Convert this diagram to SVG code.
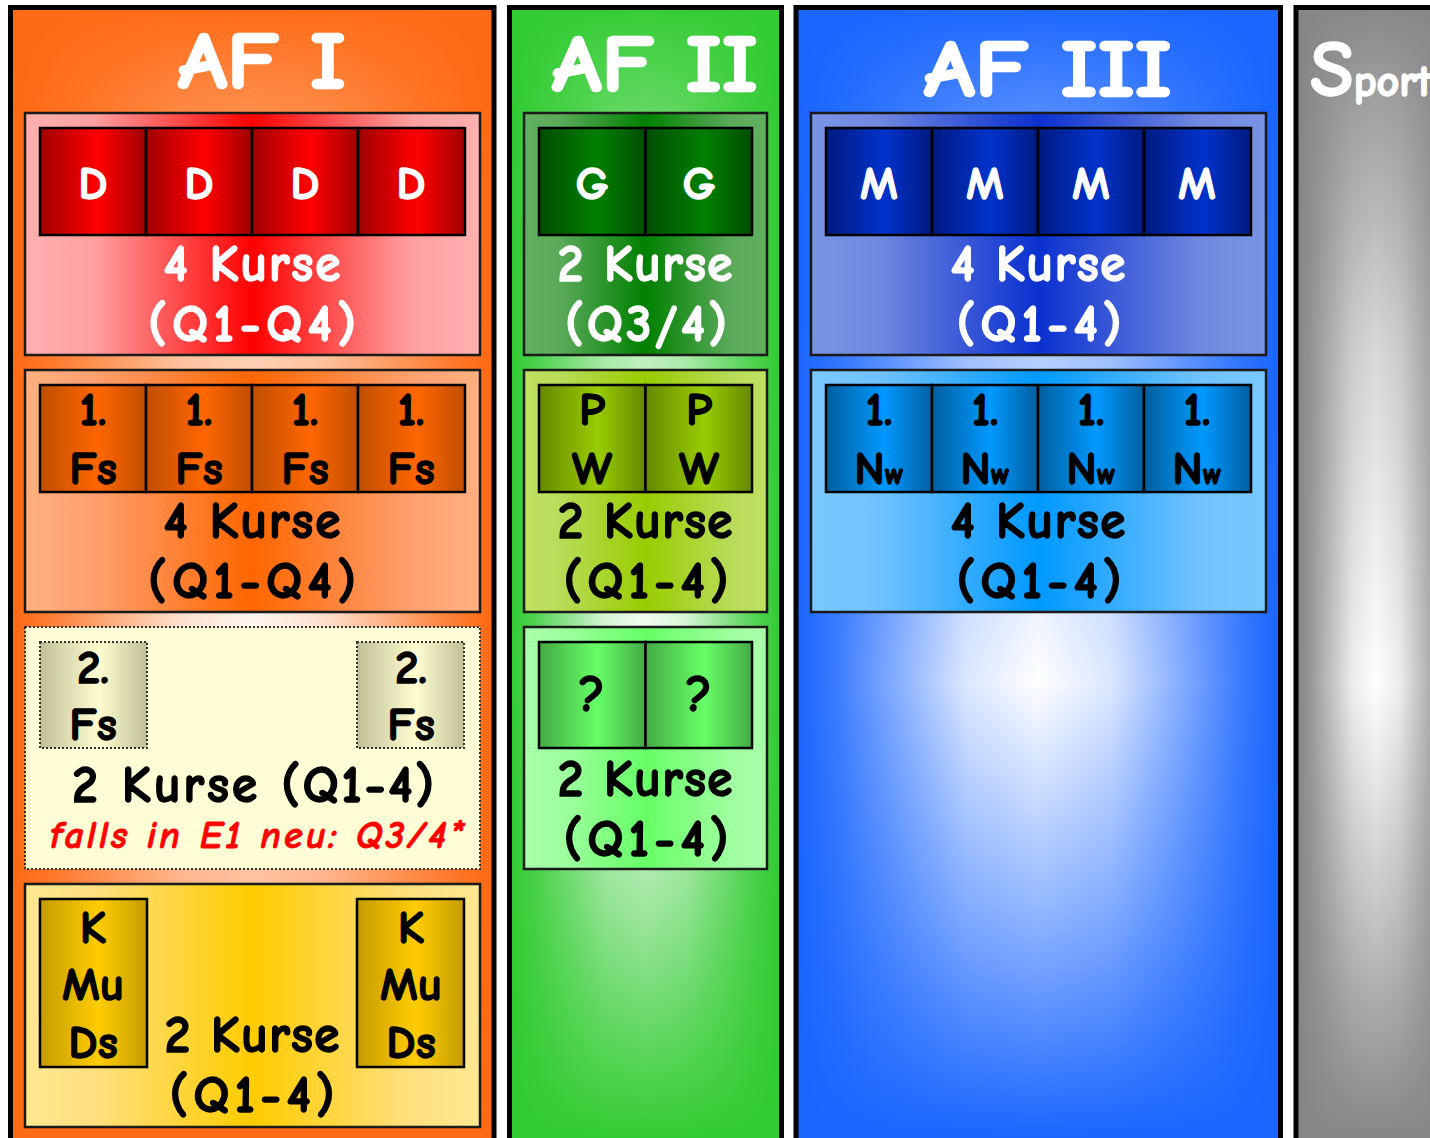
<svg xmlns="http://www.w3.org/2000/svg" width="1430" height="1138" viewBox="0 0 1430 1138">
<style>
text{font-family:"Comic Sans MS","Comic Neue","Lato","Open Sans",sans-serif;font-weight:bold;text-anchor:middle}
.col{stroke:#000;stroke-width:5}
.box{stroke:#1a1a1a;stroke-width:2.5}
.cell{stroke:#000;stroke-width:2.5}
.dot{stroke:#333;stroke-width:2;stroke-dasharray:2 2}
.title{fill:#fff;font-size:80px;stroke:#fff;stroke-width:2.5}
.w{fill:#fff;font-size:52px;stroke:#fff;stroke-width:1.3}
.b{fill:#000;font-size:52px;stroke:#000;stroke-width:1.3}
.c{font-size:47px}
.red{fill:#ff0000;font-size:38px;font-style:italic;stroke:#ff0000;stroke-width:0.8}
</style>
<defs>
<linearGradient id="glowH" x1="0" y1="0" x2="1" y2="0">
<stop offset="0" stop-color="#fff" stop-opacity="0"/>
<stop offset="0.08" stop-color="#fff" stop-opacity="0.15"/>
<stop offset="0.35" stop-color="#fff" stop-opacity="0.85"/>
<stop offset="0.5" stop-color="#fff" stop-opacity="1"/>
<stop offset="0.65" stop-color="#fff" stop-opacity="0.85"/>
<stop offset="0.92" stop-color="#fff" stop-opacity="0.15"/>
<stop offset="1" stop-color="#fff" stop-opacity="0"/>
</linearGradient>
<linearGradient id="vmaskG" gradientUnits="userSpaceOnUse" x1="0" y1="0" x2="0" y2="1138">
<stop offset="0" stop-color="#000"/>
<stop offset="0.08" stop-color="#333"/>
<stop offset="0.3" stop-color="#aaa"/>
<stop offset="0.6" stop-color="#fff"/>
<stop offset="0.8" stop-color="#888"/>
<stop offset="1" stop-color="#000"/>
</linearGradient>
<mask id="vmask" maskUnits="userSpaceOnUse" x="0" y="0" width="1430" height="1138">
<rect x="0" y="0" width="1430" height="1138" fill="url(#vmaskG)"/>
</mask>
<linearGradient id="bRed" x1="0" x2="1"><stop offset="0" stop-color="#ffb0b0"/><stop offset="0.15" stop-color="#ffa0a0"/><stop offset="0.5" stop-color="#ff0000"/><stop offset="0.85" stop-color="#ffa0a0"/><stop offset="1" stop-color="#ffb0b0"/></linearGradient>
<linearGradient id="cRed" x1="0" x2="1"><stop offset="0" stop-color="#a00000"/><stop offset="0.55" stop-color="#ff0000"/><stop offset="1" stop-color="#a00000"/></linearGradient>
<linearGradient id="bOr" x1="0" x2="1"><stop offset="0" stop-color="#ffb080"/><stop offset="0.15" stop-color="#ffa070"/><stop offset="0.5" stop-color="#ff6600"/><stop offset="0.85" stop-color="#ffa070"/><stop offset="1" stop-color="#ffb080"/></linearGradient>
<linearGradient id="cOr" x1="0" x2="1"><stop offset="0" stop-color="#c04e00"/><stop offset="0.55" stop-color="#ff6600"/><stop offset="1" stop-color="#c04e00"/></linearGradient>
<linearGradient id="cKh" x1="0" x2="1"><stop offset="0" stop-color="#c0c098"/><stop offset="0.55" stop-color="#fffcd0"/><stop offset="1" stop-color="#c0c098"/></linearGradient>
<linearGradient id="bYe" x1="0" x2="1"><stop offset="0" stop-color="#ffe890"/><stop offset="0.15" stop-color="#ffe080"/><stop offset="0.5" stop-color="#ffcc00"/><stop offset="0.85" stop-color="#ffe080"/><stop offset="1" stop-color="#ffe890"/></linearGradient>
<linearGradient id="cYe" x1="0" x2="1"><stop offset="0" stop-color="#c49c00"/><stop offset="0.55" stop-color="#ffcc00"/><stop offset="1" stop-color="#c49c00"/></linearGradient>
<linearGradient id="bG1" x1="0" x2="1"><stop offset="0" stop-color="#60b060"/><stop offset="0.15" stop-color="#5aaa5a"/><stop offset="0.5" stop-color="#008000"/><stop offset="0.85" stop-color="#5aaa5a"/><stop offset="1" stop-color="#60b060"/></linearGradient>
<linearGradient id="cG1" x1="0" x2="1"><stop offset="0" stop-color="#004d00"/><stop offset="0.55" stop-color="#008000"/><stop offset="1" stop-color="#004d00"/></linearGradient>
<linearGradient id="bG2" x1="0" x2="1"><stop offset="0" stop-color="#c0e060"/><stop offset="0.15" stop-color="#b8dc58"/><stop offset="0.5" stop-color="#99cc00"/><stop offset="0.85" stop-color="#b8dc58"/><stop offset="1" stop-color="#c0e060"/></linearGradient>
<linearGradient id="cG2" x1="0" x2="1"><stop offset="0" stop-color="#668800"/><stop offset="0.55" stop-color="#99cc00"/><stop offset="1" stop-color="#668800"/></linearGradient>
<linearGradient id="bG3" x1="0" x2="1"><stop offset="0" stop-color="#a8ffa8"/><stop offset="0.15" stop-color="#a0ffa0"/><stop offset="0.5" stop-color="#66ff66"/><stop offset="0.85" stop-color="#a0ffa0"/><stop offset="1" stop-color="#a8ffa8"/></linearGradient>
<linearGradient id="cG3" x1="0" x2="1"><stop offset="0" stop-color="#44aa44"/><stop offset="0.55" stop-color="#66ff66"/><stop offset="1" stop-color="#44aa44"/></linearGradient>
<linearGradient id="bB1" x1="0" x2="1"><stop offset="0" stop-color="#7a94e4"/><stop offset="0.15" stop-color="#7088e0"/><stop offset="0.5" stop-color="#0a30d0"/><stop offset="0.85" stop-color="#7088e0"/><stop offset="1" stop-color="#7a94e4"/></linearGradient>
<linearGradient id="cB1" x1="0" x2="1"><stop offset="0" stop-color="#001a80"/><stop offset="0.55" stop-color="#0033cc"/><stop offset="1" stop-color="#001a80"/></linearGradient>
<linearGradient id="bB2" x1="0" x2="1"><stop offset="0" stop-color="#7ac8ff"/><stop offset="0.15" stop-color="#70c2ff"/><stop offset="0.5" stop-color="#0099ff"/><stop offset="0.85" stop-color="#70c2ff"/><stop offset="1" stop-color="#7ac8ff"/></linearGradient>
<linearGradient id="cB2" x1="0" x2="1"><stop offset="0" stop-color="#005f9f"/><stop offset="0.55" stop-color="#0099ff"/><stop offset="1" stop-color="#005f9f"/></linearGradient>
</defs>

<g id="col-af1">
<rect class="col" x="10.5" y="7.5" width="483.5" height="1145" fill="#ff6a14"/>
<rect x="13" y="10" width="478" height="1140" fill="url(#glowH)" mask="url(#vmask)"/>
<text class="title" x="262" y="88" textLength="168" lengthAdjust="spacingAndGlyphs">AF I</text>
</g>
<g id="col-af2">
<rect class="col" x="509.5" y="7.5" width="272" height="1145" fill="#33cc33"/>
<rect x="512" y="10" width="267" height="1140" fill="url(#glowH)" mask="url(#vmask)"/>
<text class="title" x="655" y="91" textLength="206" lengthAdjust="spacingAndGlyphs">AF II</text>
</g>
<g id="col-af3">
<rect class="col" x="796" y="7.5" width="484.5" height="1145" fill="#1a66ff"/>
<rect x="798.5" y="10" width="479.5" height="1140" fill="url(#glowH)" mask="url(#vmask)"/>
<text class="title" x="1048" y="96" textLength="248" lengthAdjust="spacingAndGlyphs">AF III</text>
</g>
<g id="col-sport">
<rect class="col" x="1296" y="7.5" width="160" height="1145" fill="#878787"/>
<rect x="1298.5" y="10" width="155" height="1140" fill="url(#glowH)" mask="url(#vmask)"/>
<text x="1310" y="96" style="text-anchor:start;fill:#fff;stroke:#fff;stroke-width:1.5"><tspan font-size="80px">S</tspan><tspan font-size="44px">port</tspan></text>
</g>

<g id="af1-deutsch">
<rect class="box" x="25" y="113" width="455" height="242" fill="url(#bRed)"/>
<rect class="cell" x="40" y="128" width="106" height="107" fill="url(#cRed)"/>
<rect class="cell" x="146" y="128" width="106" height="107" fill="url(#cRed)"/>
<rect class="cell" x="252" y="128" width="106" height="107" fill="url(#cRed)"/>
<rect class="cell" x="358" y="128" width="107" height="107" fill="url(#cRed)"/>
<text class="w c" x="93" y="199">D</text>
<text class="w c" x="199" y="199">D</text>
<text class="w c" x="305" y="199">D</text>
<text class="w c" x="411" y="199">D</text>
<text class="w" x="252" y="281" textLength="177">4 Kurse</text>
<text class="w" x="252" y="341" textLength="208">(Q1-Q4)</text>
</g>

<g id="af1-fs1">
<rect class="box" x="25" y="370" width="455" height="242" fill="url(#bOr)"/>
<rect class="cell" x="40" y="385" width="106" height="107" fill="url(#cOr)"/>
<rect class="cell" x="146" y="385" width="106" height="107" fill="url(#cOr)"/>
<rect class="cell" x="252" y="385" width="106" height="107" fill="url(#cOr)"/>
<rect class="cell" x="358" y="385" width="107" height="107" fill="url(#cOr)"/>
<text class="b c" x="93" y="425">1.</text><text class="b c" x="93" y="484">Fs</text>
<text class="b c" x="199" y="425">1.</text><text class="b c" x="199" y="484">Fs</text>
<text class="b c" x="305" y="425">1.</text><text class="b c" x="305" y="484">Fs</text>
<text class="b c" x="411" y="425">1.</text><text class="b c" x="411" y="484">Fs</text>
<text class="b" x="252" y="538" textLength="177">4 Kurse</text>
<text class="b" x="252" y="598" textLength="208">(Q1-Q4)</text>
</g>

<g id="af1-fs2">
<rect class="dot" x="25" y="627" width="455" height="242" fill="#fffdd6"/>
<rect class="dot" x="40" y="642" width="107" height="106" fill="url(#cKh)"/>
<rect class="dot" x="357" y="642" width="107" height="106" fill="url(#cKh)"/>
<text class="b c" x="93" y="683">2.</text><text class="b c" x="93" y="740">Fs</text>
<text class="b c" x="411" y="683">2.</text><text class="b c" x="411" y="740">Fs</text>
<text class="b" x="253" y="802" textLength="362">2 Kurse (Q1-4)</text>
<text class="red" x="257" y="848" textLength="414">falls in E1 neu: Q3/4*</text>
</g>

<g id="af1-kunst">
<rect class="box" x="25" y="884" width="455" height="243" fill="url(#bYe)"/>
<rect class="cell" x="40" y="899" width="107" height="168" fill="url(#cYe)"/>
<rect class="cell" x="357" y="899" width="107" height="168" fill="url(#cYe)"/>
<text class="b c" x="93" y="943">K</text><text class="b c" x="93" y="1000">Mu</text><text class="b c" x="93" y="1058">Ds</text>
<text class="b c" x="411" y="943">K</text><text class="b c" x="411" y="1000">Mu</text><text class="b c" x="411" y="1058">Ds</text>
<text class="b" x="252" y="1052" textLength="175">2 Kurse</text>
<text class="b" x="252" y="1112" textLength="165">(Q1-4)</text>
</g>

<g id="af2-geschichte">
<rect class="box" x="524" y="113" width="243" height="242" fill="url(#bG1)"/>
<rect class="cell" x="539" y="128" width="106.5" height="107" fill="url(#cG1)"/>
<rect class="cell" x="645.5" y="128" width="106.5" height="107" fill="url(#cG1)"/>
<text class="w c" x="592" y="199">G</text>
<text class="w c" x="699" y="199">G</text>
<text class="w" x="645" y="281" textLength="175">2 Kurse</text>
<text class="w" x="646" y="341" textLength="162">(Q3/4)</text>
</g>

<g id="af2-pw">
<rect class="box" x="524" y="370" width="243" height="242" fill="url(#bG2)"/>
<rect class="cell" x="539" y="385" width="106.5" height="107" fill="url(#cG2)"/>
<rect class="cell" x="645.5" y="385" width="106.5" height="107" fill="url(#cG2)"/>
<text class="b c" x="592" y="425">P</text><text class="b c" x="592" y="484">W</text>
<text class="b c" x="699" y="425">P</text><text class="b c" x="699" y="484">W</text>
<text class="b" x="645" y="538" textLength="175">2 Kurse</text>
<text class="b" x="646" y="598" textLength="165">(Q1-4)</text>
</g>

<g id="af2-unknown">
<rect class="box" x="524" y="627" width="243" height="242" fill="url(#bG3)"/>
<rect class="cell" x="539" y="642" width="106.5" height="106" fill="url(#cG3)"/>
<rect class="cell" x="645.5" y="642" width="106.5" height="106" fill="url(#cG3)"/>
<text class="b" x="592" y="711" font-size="44px">?</text>
<text class="b" x="699" y="711" font-size="44px">?</text>
<text class="b" x="645" y="796" textLength="175">2 Kurse</text>
<text class="b" x="646" y="856" textLength="165">(Q1-4)</text>
</g>

<g id="af3-mathe">
<rect class="box" x="811" y="113" width="455" height="242" fill="url(#bB1)"/>
<rect class="cell" x="826" y="128" width="106" height="107" fill="url(#cB1)"/>
<rect class="cell" x="932" y="128" width="106" height="107" fill="url(#cB1)"/>
<rect class="cell" x="1038" y="128" width="106" height="107" fill="url(#cB1)"/>
<rect class="cell" x="1144" y="128" width="107" height="107" fill="url(#cB1)"/>
<text class="w c" x="879" y="199">M</text>
<text class="w c" x="985" y="199">M</text>
<text class="w c" x="1091" y="199">M</text>
<text class="w c" x="1197" y="199">M</text>
<text class="w" x="1038" y="281" textLength="175">4 Kurse</text>
<text class="w" x="1039" y="341" textLength="165">(Q1-4)</text>
</g>

<g id="af3-nw">
<rect class="box" x="811" y="370" width="455" height="242" fill="url(#bB2)"/>
<rect class="cell" x="826" y="385" width="106" height="107" fill="url(#cB2)"/>
<rect class="cell" x="932" y="385" width="106" height="107" fill="url(#cB2)"/>
<rect class="cell" x="1038" y="385" width="106" height="107" fill="url(#cB2)"/>
<rect class="cell" x="1144" y="385" width="107" height="107" fill="url(#cB2)"/>
<text class="b c" x="879" y="425">1.</text><text class="b c" x="879" y="484">N<tspan font-size="30px">w</tspan></text>
<text class="b c" x="985" y="425">1.</text><text class="b c" x="985" y="484">N<tspan font-size="30px">w</tspan></text>
<text class="b c" x="1091" y="425">1.</text><text class="b c" x="1091" y="484">N<tspan font-size="30px">w</tspan></text>
<text class="b c" x="1197" y="425">1.</text><text class="b c" x="1197" y="484">N<tspan font-size="30px">w</tspan></text>
<text class="b" x="1038" y="538" textLength="175">4 Kurse</text>
<text class="b" x="1039" y="598" textLength="165">(Q1-4)</text>
</g>

<g id="connectors"></g>
</svg>
